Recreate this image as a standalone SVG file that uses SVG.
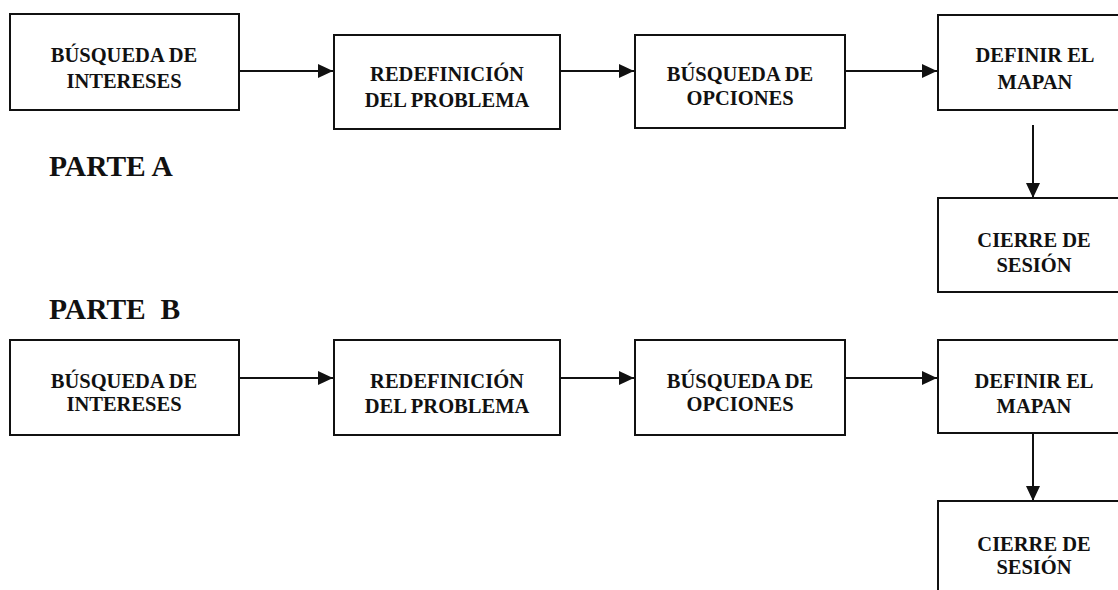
<svg xmlns="http://www.w3.org/2000/svg" width="1118" height="590" viewBox="0 0 1118 590">
<style>
.box{fill:#fff;stroke:#111;stroke-width:2}
.t{font-family:"Liberation Serif","Times New Roman",serif;font-weight:bold;font-size:20.5px;fill:#111;text-anchor:middle}
.h{font-family:"Liberation Serif","Times New Roman",serif;font-weight:bold;font-size:29.5px;fill:#111;white-space:pre}
.c{stroke:#111;stroke-width:2;fill:none;marker-end:url(#ah)}
</style>
<defs>
<marker id="ah" markerUnits="userSpaceOnUse" markerWidth="16" markerHeight="14" refX="15" refY="7" orient="auto">
<path d="M0,0 L15,7 L0,14 Z" fill="#111"/>
</marker>
</defs>
<rect width="1118" height="590" fill="#fff"/>
<text class="h" x="49" y="176">PARTE A</text>
<text class="h" x="49" y="319" xml:space="preserve">PARTE  B</text>
<g id="connectors">
<line class="c" x1="239" y1="71" x2="333" y2="71"/>
<line class="c" x1="560" y1="71" x2="634" y2="71"/>
<line class="c" x1="845" y1="71" x2="937" y2="71"/>
<line class="c" x1="1033" y1="125" x2="1033" y2="198"/>
<line class="c" x1="239" y1="378" x2="333" y2="378"/>
<line class="c" x1="560" y1="378" x2="634" y2="378"/>
<line class="c" x1="845" y1="378" x2="937" y2="378"/>
<line class="c" x1="1033" y1="428" x2="1033" y2="501"/>
</g>
<g id="a1"><rect class="box" x="10" y="14" width="229" height="96"/><text class="t" x="124" y="62">BÚSQUEDA DE</text><text class="t" x="124" y="88">INTERESES</text></g>
<g id="a2"><rect class="box" x="334" y="35" width="226" height="94"/><text class="t" x="447" y="81">REDEFINICIÓN</text><text class="t" x="447" y="107">DEL PROBLEMA</text></g>
<g id="a3"><rect class="box" x="635" y="35" width="210" height="93"/><text class="t" x="740" y="81">BÚSQUEDA DE</text><text class="t" x="740" y="105">OPCIONES</text></g>
<g id="a4"><rect class="box" x="938" y="15" width="200" height="95"/><text class="t" x="1035" y="62">DEFINIR EL</text><text class="t" x="1035" y="89">MAPAN</text></g>
<g id="a5"><rect class="box" x="938" y="198" width="200" height="94"/><text class="t" x="1034" y="247">CIERRE DE</text><text class="t" x="1034" y="272">SESIÓN</text></g>
<g id="b1"><rect class="box" x="10" y="340" width="229" height="95"/><text class="t" x="124" y="388">BÚSQUEDA DE</text><text class="t" x="124" y="411">INTERESES</text></g>
<g id="b2"><rect class="box" x="334" y="340" width="226" height="95"/><text class="t" x="447" y="388">REDEFINICIÓN</text><text class="t" x="447" y="413">DEL PROBLEMA</text></g>
<g id="b3"><rect class="box" x="635" y="340" width="210" height="95"/><text class="t" x="740" y="388">BÚSQUEDA DE</text><text class="t" x="740" y="411">OPCIONES</text></g>
<g id="b4"><rect class="box" x="938" y="340" width="200" height="93"/><text class="t" x="1034" y="388">DEFINIR EL</text><text class="t" x="1034" y="413">MAPAN</text></g>
<g id="b5"><rect class="box" x="938" y="501" width="200" height="100"/><text class="t" x="1034" y="551">CIERRE DE</text><text class="t" x="1034" y="574">SESIÓN</text></g>
</svg>
